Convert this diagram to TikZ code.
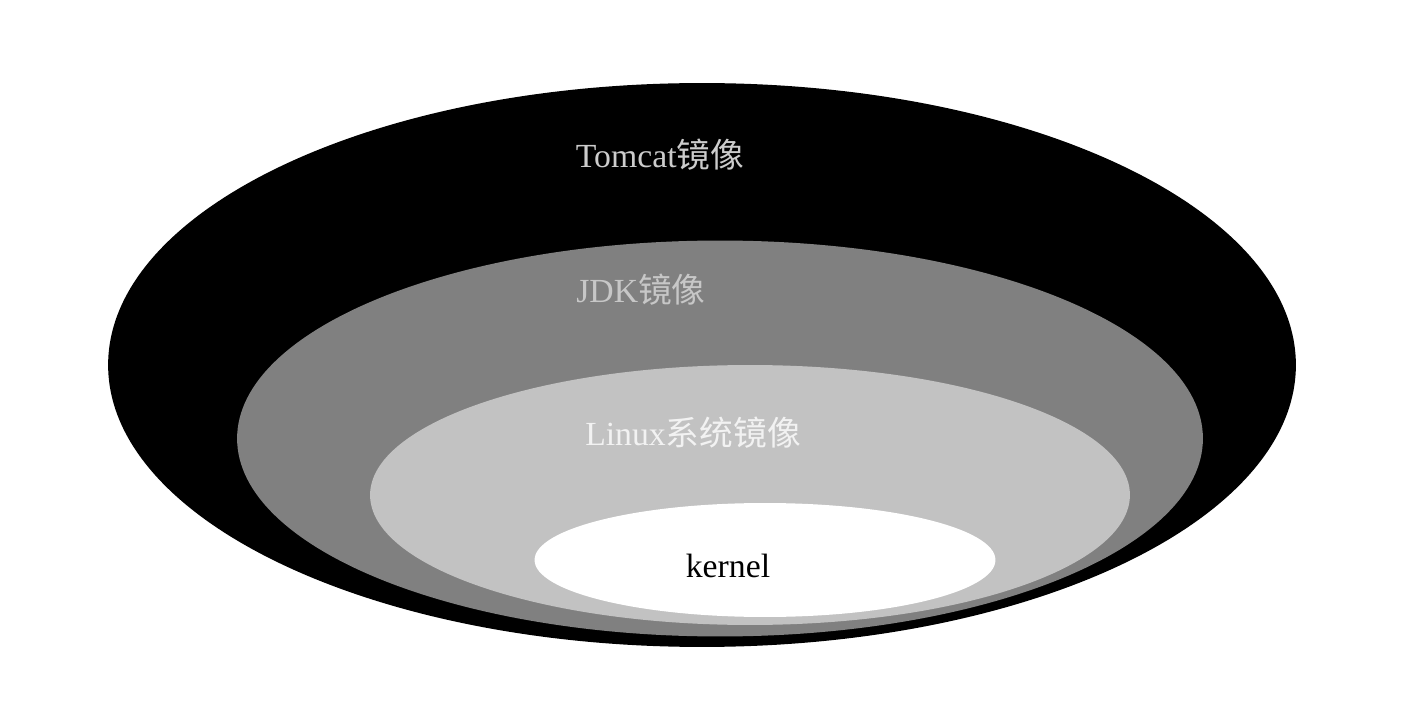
\documentclass[tikz,border=0pt]{standalone}
\usepackage{fontspec}
\setmainfont{Liberation Serif}
\newfontfamily\cjk{Noto Sans CJK SC}
\usepackage{tikz}
\usetikzlibrary{shapes.geometric}

\begin{document}
\begin{tikzpicture}[
    x=0.02cm,y=-0.02cm,
    layer/.style={ellipse,draw=none,inner sep=0pt,outer sep=0pt},
    label/.style={font=\fontsize{19.2}{22}\selectfont,inner sep=0pt}
]
\useasboundingbox (0,0) rectangle (1412,712);

\node[layer,fill=black,minimum width=23.76cm,minimum height=11.28cm] (tomcat) at (702,365) {};
\node[layer,fill=black!50,minimum width=19.32cm,minimum height=7.92cm] (jdk) at (720,438.5) {};
\node[layer,fill=black!24,minimum width=15.2cm,minimum height=5.2cm] (linux) at (750,495) {};
\node[layer,fill=white,minimum width=9.22cm,minimum height=2.28cm] (kernel) at (765,560) {};

\node[label,text=black!20] (tomcatlbl) at (660,155) {Tomcat{\cjk 镜像}};
\node[label,text=black!22] (jdklbl) at (641,290) {JDK{\cjk 镜像}};
\node[label,text=black!5] (linuxlbl) at (693,433) {Linux{\cjk 系统镜像}};
\node[label,text=black] (kernellbl) at (728,566) {kernel};

\end{tikzpicture}
\end{document}
